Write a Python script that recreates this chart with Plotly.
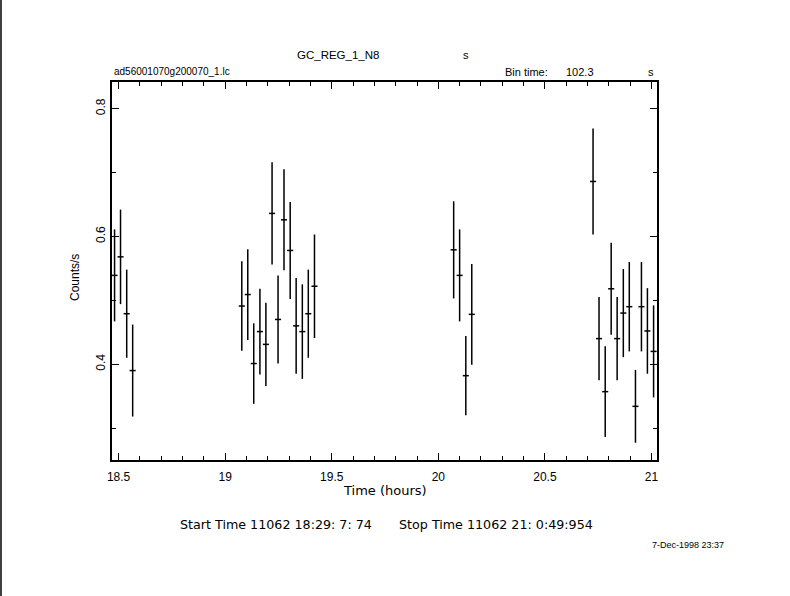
import plotly.graph_objects as go

# ---- data ----
time_h = [18.481, 18.509, 18.538, 18.566,
          19.078, 19.106, 19.134, 19.163, 19.191, 19.220, 19.248, 19.276, 19.305, 19.333, 19.362, 19.390, 19.419,
          20.072, 20.100, 20.129, 20.157,
          20.726, 20.754, 20.783, 20.811, 20.839, 20.868, 20.896, 20.925, 20.953, 20.981, 21.010]
rate = [0.539, 0.568, 0.479, 0.390,
        0.491, 0.509, 0.401, 0.451, 0.431, 0.636, 0.470, 0.626, 0.578, 0.460, 0.451, 0.479, 0.522,
        0.579, 0.539, 0.382, 0.478,
        0.686, 0.440, 0.357, 0.518, 0.440, 0.480, 0.490, 0.334, 0.490, 0.452, 0.420]
rate_err = [0.072, 0.074, 0.069, 0.072,
            0.070, 0.071, 0.063, 0.067, 0.065, 0.080, 0.069, 0.079, 0.076, 0.075, 0.074, 0.069, 0.081,
            0.076, 0.072, 0.062, 0.079,
            0.083, 0.065, 0.071, 0.072, 0.065, 0.069, 0.070, 0.057, 0.070, 0.067, 0.072]
half_bin_h = 102.3 / 3600 / 2

x_ticks = [18.5, 19, 19.5, 20, 20.5, 21]
x_tick_text = ["18.5", "19", "19.5", "20", "20.5", "21"]
y_ticks = [0.4, 0.6, 0.8]
y_tick_text = ["0.4", "0.6", "0.8"]

W, H = 790, 596
L, R, T, B = 112, 657, 82, 460
FONT = "Liberation Sans"
WIDE = "DejaVu Sans"


def px(x):
    return (x - L) / (R - L)


def py(y):
    return (B - y) / (B - T)


fig = go.Figure()
fig.add_trace(go.Scatter(
    x=time_h, y=rate, mode="markers",
    marker=dict(size=0.1, color="black", opacity=0),
    error_y=dict(type="data", array=rate_err, visible=True, color="black", thickness=1.5, width=0),
    error_x=dict(type="constant", value=half_bin_h, visible=True, color="black", thickness=1.5, width=0),
    showlegend=False, hoverinfo="skip",
))

axis_common = dict(
    showgrid=False, zeroline=False, showline=True, linecolor="black", linewidth=1.5,
    mirror="ticks", ticks="inside", ticklen=7, tickwidth=1, tickcolor="black",
    tickfont=dict(family=FONT, size=12, color="black"),
)

fig.update_xaxes(
    range=[18.469, 21.026], tickvals=x_ticks, ticktext=x_tick_text,
    minor=dict(dtick=0.1, ticks="inside", ticklen=4, tickcolor="black", tickwidth=1, showgrid=False),
    ticklabelstandoff=5, **axis_common,
)
fig.update_yaxes(
    range=[0.25, 0.8417], tickvals=y_ticks, ticktext=y_tick_text, tickangle=-90,
    minor=dict(dtick=0.1, ticks="inside", ticklen=4, tickcolor="black", tickwidth=1, showgrid=False),
    ticklabelstandoff=0, **axis_common,
)

ann = []


def text(x, y, s, size=12, xanchor="center", angle=0, family=FONT):
    ann.append(dict(x=px(x), y=py(y), xref="paper", yref="paper", text=s, showarrow=False,
                    xanchor=xanchor, yanchor="middle", textangle=angle,
                    font=dict(family=family, size=size, color="black")))


text(338, 55, "GC_REG_1_N8", size=11.5)
text(466, 55, "s", size=11)
text(112, 72, "ad56001070g200070_1.lc", size=10, xanchor="left")
text(503, 72, "Bin time:", size=11, xanchor="left")
text(580, 72, "102.3", size=11)
text(651, 72, "s", size=11)
text(75, 278, "Counts/s", angle=-90)
text(385, 490, "Time (hours)", size=13, family=WIDE)
text(178, 524, "Start Time 11062 18:29: 7: 74", size=12.7, xanchor="left", family=WIDE)
text(397, 524, "Stop Time 11062 21: 0:49:954", size=12.7, xanchor="left", family=WIDE)
text(688, 545, "7-Dec-1998 23:37", size=9)

fig.update_layout(
    width=W, height=H, margin=dict(l=L, r=W - R, t=T, b=H - B),
    paper_bgcolor="white", plot_bgcolor="white", annotations=ann,
    shapes=[dict(type="line", xref="paper", yref="paper", x0=px(1), x1=px(1), y0=py(596), y1=py(0),
                 line=dict(color="black", width=1.5))],
)

fig.write_html("out.html", config={"displayModeBar": False},
               post_script="document.body.style.margin='0';document.body.style.overflow='hidden';")
